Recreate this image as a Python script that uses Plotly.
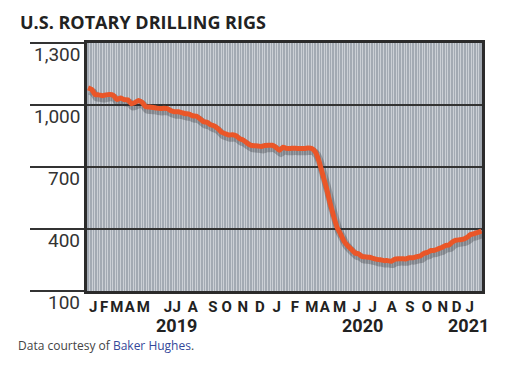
import pandas as pd
import plotly.graph_objects as go

# ---- data ----
start_date = "2019-01-04"
rigs_2019 = [1083, 1075, 1050, 1049, 1045, 1049, 1051, 1047, 1027, 1034, 1026, 1025, 1006,
             1012, 1022, 1012, 991, 990, 988, 985, 983, 984, 982, 972, 967, 967, 963, 958,
             956, 948, 946, 934, 919, 916, 904, 898, 886, 868, 861, 855, 856, 851, 837, 830,
             817, 806, 803, 802, 799, 804, 805, 805]
rigs_2020 = [796, 781, 796, 790, 790, 791, 790, 790, 790, 792, 790, 772, 728, 664, 602, 529,
             465, 408, 374, 339, 318, 301, 284, 279, 266, 265, 263, 258, 253, 251, 247, 247,
             244, 254, 256, 256, 255, 261, 261, 266, 269, 282, 287, 296, 297, 304, 310, 320,
             323, 338, 346, 348]
rigs_2021 = [351, 360, 373, 378, 384, 390]
rigs = rigs_2019 + rigs_2020 + rigs_2021
weeks = pd.date_range(start_date, periods=len(rigs), freq="7D")

month_tick_dates = ["2019-01-14", "2019-02-04", "2019-03-01", "2019-03-26", "2019-04-21",
                    "2019-06-08", "2019-06-25", "2019-07-26", "2019-09-03", "2019-09-30",
                    "2019-10-31", "2019-12-03", "2020-01-05", "2020-02-09", "2020-03-13",
                    "2020-04-07", "2020-05-06", "2020-06-08", "2020-07-09", "2020-08-15",
                    "2020-09-19", "2020-10-22", "2020-11-22", "2020-12-19", "2021-01-13"]
month_tick_text = ["J", "F", "M", "A", "M", "J", "J", "A", "S", "O", "N", "D",
                   "J", "F", "M", "A", "M", "J", "J", "A", "S", "O", "N", "D", "J"]
year_labels = ["2019", "2020", "2021"]
year_label_dates = ["2019-06-24", "2020-06-19", "2021-01-10"]
y_ticks = [100, 400, 700, 1000, 1300]
y_tick_text = ["100", "400", "700", "1,000", "1,300"]

title_text = "U.S. ROTARY DRILLING RIGS"
source_text = "Data courtesy of <span style='color:#34489a'>Baker Hughes</span>."

# ---- figure (page body has an 8px margin, so the figure is offset by 8px) ----
OFF = 8
W, H = 531 - OFF, 366 - OFF
ML, MR, MT, MB = 87 - OFF, 49, 43 - OFF, 75
PW, PH = W - ML - MR, H - MT - MB

def px_x(page_x):
    return (page_x - OFF - ML) / PW

def px_y(page_y):
    return (MT + PH - (page_y - OFF)) / PH

COND = "Roboto, sans-serif"

fig = go.Figure()
# soft shadow under the line
fig.add_trace(go.Scatter(
    x=weeks + pd.Timedelta(days=3), y=[v - 14 for v in rigs], mode="lines",
    line=dict(color="rgba(45,45,50,0.30)", width=8, shape="spline", smoothing=0.5),
    hoverinfo="skip", showlegend=False))
fig.add_trace(go.Scatter(
    x=weeks, y=rigs, mode="lines",
    line=dict(color="#ea5628", width=5, shape="spline", smoothing=0.5),
    showlegend=False))

fig.update_layout(
    width=W, height=H,
    margin=dict(l=ML, r=MR, t=MT, b=MB, autoexpand=False),
    paper_bgcolor="white", plot_bgcolor="#a3aab3",
    xaxis=dict(
        type="date", range=["2019-01-02", "2021-02-06"], automargin=False,
        tickmode="array", tickvals=month_tick_dates, ticktext=month_tick_text,
        tickangle=0,
        tickfont=dict(family=COND, size=15, color="#222", weight="bold"),
        ticks="", showgrid=False, zeroline=False,
        showline=True, linecolor="#2b2b2b", linewidth=2.5, mirror=True,
        minor=dict(dtick=5 * 86400000, tick0="2019-01-02", showgrid=True,
                   gridcolor="#ccd0d6", gridwidth=1.3, ticks=""),
    ),
    yaxis=dict(
        range=[100, 1300], tickmode="array", tickvals=y_ticks, automargin=False,
        showticklabels=False, ticks="outside", ticklen=54, tickwidth=1.5,
        tickcolor="#333", showgrid=True, gridcolor="#333", gridwidth=1.5,
        zeroline=False, showline=True, linecolor="#2b2b2b", linewidth=2.5, mirror=True,
    ),
)

anns = []
for v, t in zip(y_ticks, y_tick_text):
    anns.append(dict(x=0, xref="paper", y=v, yref="y", text=t, showarrow=False,
                     xanchor="right", yanchor="top", xshift=-5, yshift=2,
                     font=dict(family=COND, size=19, color="#333")))
for d, t in zip(year_label_dates, year_labels):
    anns.append(dict(x=d, xref="x", y=px_y(325), yref="paper", text="<b>" + t + "</b>",
                     showarrow=False, xanchor="center", yanchor="middle",
                     font=dict(family=COND, size=18, color="#222")))
anns.append(dict(x=px_x(18), xref="paper", y=px_y(21.5), yref="paper",
                 text="<b>" + title_text + "</b>", showarrow=False,
                 xanchor="left", yanchor="middle",
                 font=dict(family="Open Sans, sans-serif", size=18, color="#222")))
anns.append(dict(x=px_x(16), xref="paper", y=px_y(345), yref="paper",
                 text=source_text, showarrow=False, xanchor="left", yanchor="middle",
                 font=dict(family="Open Sans, sans-serif", size=12, color="#444")))
fig.update_layout(annotations=anns)

fig.write_html("out.html")
